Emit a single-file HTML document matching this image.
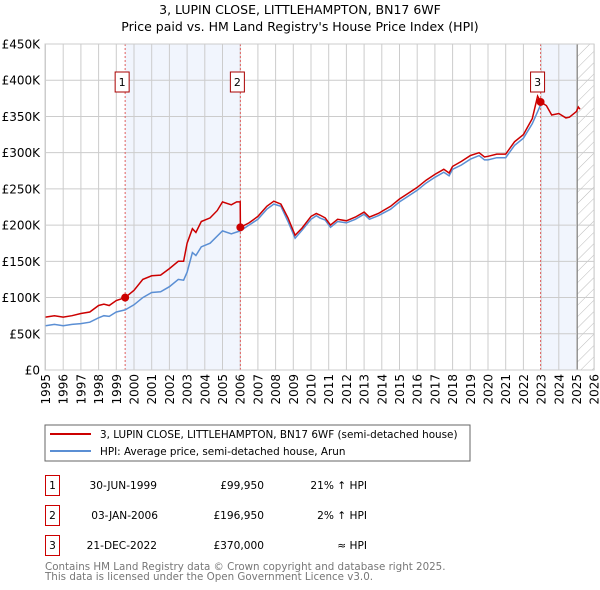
<!DOCTYPE html>
<html><head><meta charset="utf-8"><style>
body{margin:0;background:#fff;width:600px;height:590px;overflow:hidden;font-family:"DejaVu Sans","Liberation Sans",sans-serif;}
svg{position:absolute;left:0;top:0}
</style></head><body>
<svg id="s" width="600" height="590" xmlns="http://www.w3.org/2000/svg" font-family="DejaVu Sans, Liberation Sans, sans-serif">
<defs><pattern id="h" width="8" height="8" patternUnits="userSpaceOnUse" patternTransform="rotate(45)"><line x1="0" y1="0" x2="0" y2="8" stroke="#bbb" stroke-width="1"/></pattern></defs>
<text x="300" y="14" font-size="12.5" text-anchor="middle">3, LUPIN CLOSE, LITTLEHAMPTON, BN17 6WF</text>
<text x="300" y="31" font-size="12.5" text-anchor="middle">Price paid vs. HM Land Registry's House Price Index (HPI)</text>
<g id="g"></g>
<rect x="45" y="425" width="425" height="36" fill="none" stroke="#666"/>
<line x1="50" y1="434" x2="91" y2="434" stroke="#cc0000" stroke-width="2"/>
<line x1="50" y1="451" x2="91" y2="451" stroke="#5b8fd4" stroke-width="2"/>
<text x="100" y="438" font-size="10.4">3, LUPIN CLOSE, LITTLEHAMPTON, BN17 6WF (semi-detached house)</text>
<text x="100" y="455" font-size="10.4">HPI: Average price, semi-detached house, Arun</text>
<g font-size="10.6">
<rect x="45.5" y="475.5" width="14" height="20" fill="none" stroke="#cc0000"/><text x="52.5" y="489" text-anchor="middle">1</text>
<text x="157" y="489" text-anchor="end">30-JUN-1999</text><text x="264" y="489" text-anchor="end">£99,950</text><text x="367" y="489" text-anchor="end">21% ↑ HPI</text>
<rect x="45.5" y="505.5" width="14" height="20" fill="none" stroke="#cc0000"/><text x="52.5" y="519" text-anchor="middle">2</text>
<text x="158" y="519" text-anchor="end">03-JAN-2006</text><text x="264" y="519" text-anchor="end">£196,950</text><text x="367" y="519" text-anchor="end">2% ↑ HPI</text>
<rect x="45.5" y="535.5" width="14" height="20" fill="none" stroke="#cc0000"/><text x="52.5" y="549" text-anchor="middle">3</text>
<text x="157" y="549" text-anchor="end">21-DEC-2022</text><text x="264" y="549" text-anchor="end">£370,000</text><text x="367" y="549" text-anchor="end">≈ HPI</text>
</g>
<text x="45" y="570" font-size="10.3" fill="#777">Contains HM Land Registry data © Crown copyright and database right 2025.</text>
<text x="45" y="580" font-size="10.3" fill="#777">This data is licensed under the Open Government Licence v3.0.</text>
</svg>
<script>
var X0=45.5,YW=17.7,Y0=370,K=326/450;
function px(y){return X0+(y-1995)*YW}function py(v){return Y0-v*K}
var s='';
s+='<rect x="'+px(1999.5)+'" y="44" width="'+(px(2006.01)-px(1999.5))+'" height="326" fill="#eef3fc" opacity="0.8"/>';
s+='<rect x="'+px(2022.97)+'" y="44" width="'+(px(2025.05)-px(2022.97))+'" height="326" fill="#eef3fc" opacity="0.8"/>';
s+='<rect x="'+px(2025.05)+'" y="44" width="'+(px(2026)-px(2025.05))+'" height="326" fill="url(#h)"/>';
for(var y=1995;y<=2026;y++){var x=px(y);s+='<line x1="'+x+'" y1="44" x2="'+x+'" y2="370" stroke="#ccc"/>';
s+='<text transform="translate('+(x+4.5)+',374) rotate(-90)" font-size="12" text-anchor="end">'+y+'</text>';}
for(var v=0;v<=450;v+=50){var yy=py(v);s+='<line x1="45" y1="'+yy+'" x2="594" y2="'+yy+'" stroke="#ccc"/>';
s+='<text x="40" y="'+(yy+4.5)+'" font-size="12" text-anchor="end">'+(v==0?'£0':'£'+v+'K')+'</text>';}
s+='<line x1="'+px(2025.05)+'" y1="44" x2="'+px(2025.05)+'" y2="370" stroke="#888"/>';
[1999.5,2006.01,2022.97].forEach(function(t){s+='<line x1="'+px(t)+'" y1="44" x2="'+px(t)+'" y2="370" stroke="#e06060" stroke-dasharray="2,2"/>';});
var B=[[1995,61],[1995.5,63],[1996,61],[1996.5,63],[1997,64],[1997.5,66],[1998,72],[1998.3,75],[1998.6,74],[1999,80],[1999.5,83],[2000,90],[2000.5,100],[2001,107],[2001.5,108],[2002,115],[2002.5,125],[2002.8,124],[2003,135],[2003.3,162],[2003.5,158],[2003.8,170],[2004.3,175],[2005,192],[2005.5,188],[2006,192],[2006.5,200],[2007,208],[2007.5,222],[2007.9,229],[2008.3,226],[2008.7,205],[2009.1,182],[2009.5,193],[2010,208],[2010.3,213],[2010.5,210],[2010.8,207],[2011.1,197],[2011.5,205],[2012,203],[2012.5,208],[2013,215],[2013.3,208],[2013.8,213],[2014.5,222],[2015,232],[2015.5,240],[2016,248],[2016.5,258],[2017,266],[2017.5,273],[2017.8,268],[2018,277],[2018.5,283],[2019,291],[2019.5,296],[2019.8,290],[2020,290],[2020.5,293],[2021,293],[2021.5,310],[2022,320],[2022.5,340],[2022.97,366]];
var R=[[1995,73],[1995.5,75],[1996,73],[1996.5,75],[1997,78],[1997.5,80],[1998,89],[1998.3,91],[1998.6,89],[1999,96],[1999.5,100],[2000,110],[2000.5,125],[2001,130],[2001.5,131],[2002,140],[2002.5,150],[2002.8,150],[2003,175],[2003.3,195],[2003.5,190],[2003.8,205],[2004.3,210],[2004.7,220],[2005,232],[2005.5,228],[2005.8,232],[2006,232],[2006.01,196.95],[2006.5,203],[2007,212],[2007.5,226],[2007.9,233],[2008.3,229],[2008.7,210],[2009.1,186],[2009.5,196],[2010,212],[2010.3,216],[2010.5,214],[2010.8,210],[2011.1,200],[2011.5,208],[2012,206],[2012.5,211],[2013,218],[2013.3,211],[2013.8,216],[2014.5,226],[2015,236],[2015.5,244],[2016,252],[2016.5,262],[2017,270],[2017.5,277],[2017.8,272],[2018,281],[2018.5,288],[2019,296],[2019.5,300],[2019.8,294],[2020,295],[2020.5,298],[2021,298],[2021.5,315],[2022,325],[2022.5,347],[2022.8,378],[2022.97,370],[2023.3,365],[2023.6,352],[2024,354],[2024.4,348],[2024.6,349],[2025,357],[2025.1,363],[2025.2,360]];
function path(d){return d.map(function(p,i){return(i?'L':'M')+px(p[0]).toFixed(1)+','+py(p[1]).toFixed(1)}).join('')}
s+='<path d="'+path(B)+'" fill="none" stroke="#5b8fd4" stroke-width="1.5"/>';
s+='<path d="'+path(R)+'" fill="none" stroke="#cc0000" stroke-width="1.5"/>';
[[1999.5,99.95],[2006.01,196.95],[2022.97,370]].forEach(function(p){s+='<circle cx="'+px(p[0])+'" cy="'+py(p[1])+'" r="4" fill="#cc0000"/>';});
[[1999.5,'1',-3],[2006.01,'2',-3],[2022.97,'3',-3]].forEach(function(p){var x=px(p[0])+p[2];s+='<rect x="'+(x-7)+'" y="72" width="14" height="20" fill="#fff" stroke="#aa0000"/><text x="'+x+'" y="86" font-size="11" text-anchor="middle">'+p[1]+'</text>';});
s+='<rect x="45" y="44" width="549" height="326" fill="none" stroke="#ccc"/>';
document.getElementById('g').innerHTML=s;
</script>
</body></html>
